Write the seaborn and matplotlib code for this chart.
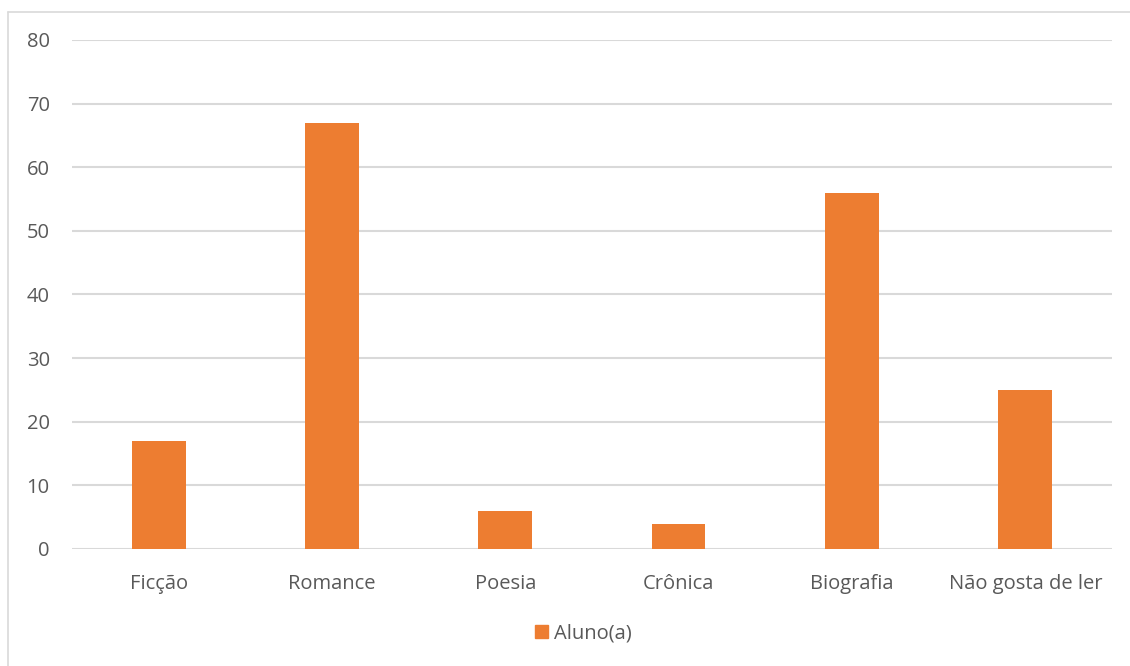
import matplotlib
matplotlib.use("Agg")
import matplotlib.pyplot as plt
from matplotlib.lines import Line2D
import seaborn as sns
import pandas as pd

generos = ["Ficção", "Romance", "Poesia", "Crônica", "Biografia", "Não gosta de ler"]
alunos = [17, 67, 6, 4, 56, 25]
serie = "Aluno(a)"
y_ticks = [0, 10, 20, 30, 40, 50, 60, 70, 80]

df = pd.DataFrame({"genero": generos, "valor": alunos, "serie": serie})

sns.set_style("white")
plt.rcParams["font.family"] = ["Open Sans", "DejaVu Sans"]

texto = "#595959"
grade = "#d9d9d9"
laranja = "#ED7D31"

fig = plt.figure(figsize=(11.3, 6.66), dpi=100)
ax = fig.add_axes([0.0637, 0.1757, 0.9203, 0.7643])

sns.barplot(data=df, x="genero", y="valor", hue="serie", palette=[laranja],
            width=0.31, saturation=1, ax=ax, legend=True, linewidth=0)

ax.set_ylim(0, 80)
ax.set_xlim(-0.5, len(generos) - 0.5)
ax.set_yticks(y_ticks)
ax.yaxis.grid(True, color=grade, linewidth=1.5)
ax.set_axisbelow(True)
for s in ax.spines.values():
    s.set_visible(False)
ax.tick_params(axis="both", length=0, colors=texto, labelsize=14.5)
ax.tick_params(axis="x", pad=18)
ax.tick_params(axis="y", pad=16)
ax.set_xlabel("")
ax.set_ylabel("")

# legend at the bottom
ax.get_legend().remove()
handle = plt.Rectangle((0, 0), 1, 1, color=laranja)
fig.legend([handle], [serie], loc="center", bbox_to_anchor=(0.516, 0.049),
           frameon=False, fontsize=14.5, labelcolor=texto,
           handlelength=0.65, handleheight=0.65, handletextpad=0.3)

# chart area border (top and left visible)
fig.add_artist(Line2D([0.007, 0.007], [0, 0.982], color=grade, linewidth=1.2,
                      transform=fig.transFigure))
fig.add_artist(Line2D([0.007, 1], [0.982, 0.982], color=grade, linewidth=1.2,
                      transform=fig.transFigure))

fig.savefig("out.png", dpi=100, facecolor="white")
